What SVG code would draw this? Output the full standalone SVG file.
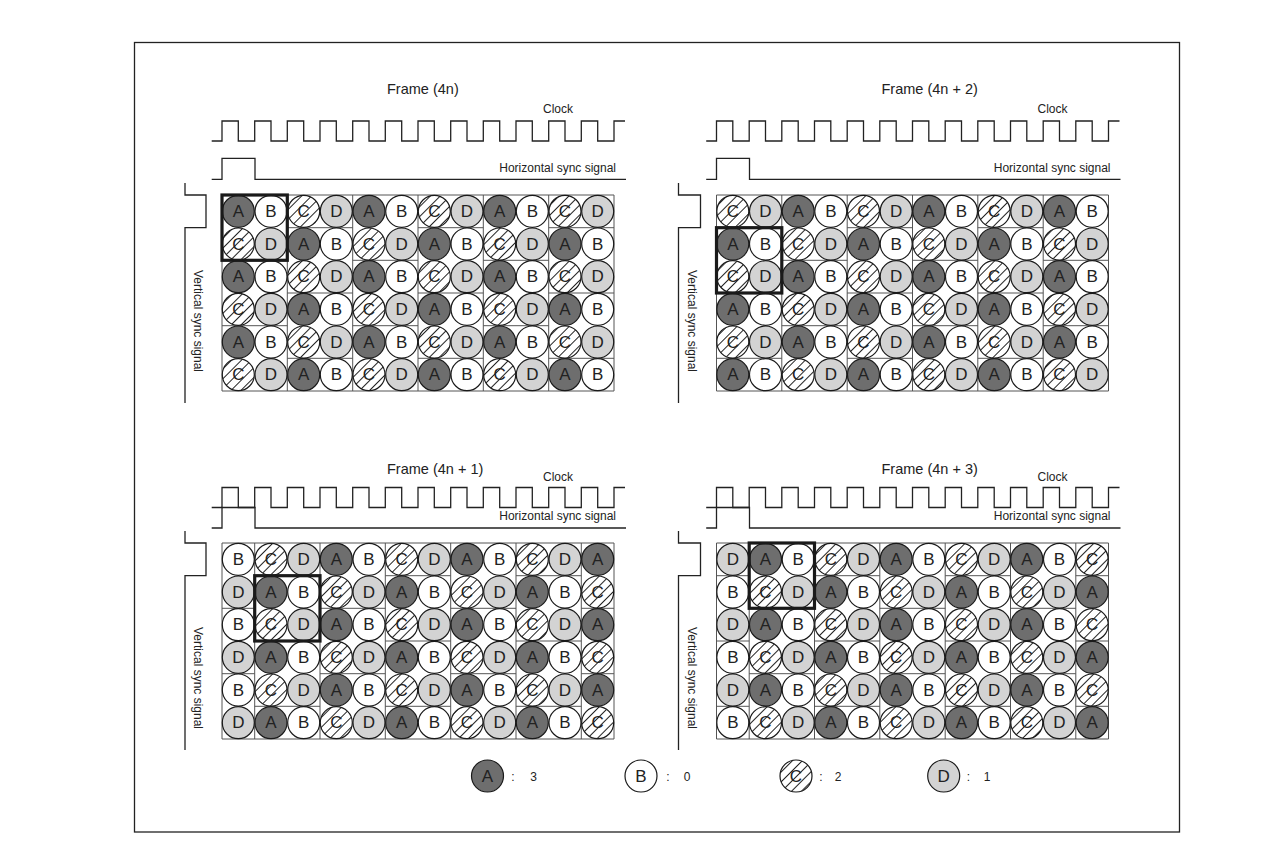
<svg xmlns="http://www.w3.org/2000/svg" width="1284" height="865" viewBox="0 0 1284 865">
<style>
.cells circle{r:16px;stroke:#1a1a1a;stroke-width:1.2}
.cells text{font-family:"Liberation Sans",Arial,sans-serif;font-size:17px;text-anchor:middle;dominant-baseline:central;fill:#222}
.a{fill:#6e6e6e}.b{fill:#fff}.c{fill:url(#hatch)}.d{fill:#d3d3d3}
.grid{fill:none;stroke:#555;stroke-width:1}
.sel{fill:none;stroke:#1a1a1a;stroke-width:3.2}
.wave{fill:none;stroke:#222;stroke-width:1.3}
.lbl{font-family:"Liberation Sans",Arial,sans-serif;fill:#222}
.title{font-size:14.5px}
.small{font-size:12px}
</style>
<defs>
<pattern id="hatch" width="7" height="7" patternUnits="userSpaceOnUse" patternTransform="rotate(45)">
<rect width="7" height="7" fill="#fff"/>
<line x1="3.5" y1="0" x2="3.5" y2="7" stroke="#222" stroke-width="1"/>
</pattern>
</defs>
<rect x="134.5" y="42.5" width="1045" height="789.5" fill="none" stroke="#222" stroke-width="1.3"/>

<!-- ============ Frame (4n) ============ -->
<g id="frame-4n" transform="translate(222,195)">
<text class="lbl title" x="165" y="-101">Frame (4n)</text>
<text class="lbl small" x="336" y="-82.5" text-anchor="middle">Clock</text>
<path class="wave" d="M-10.3,-54H0V-74H16.3V-54H32.7V-74H49V-54H65.3V-74H81.7V-54H98V-74H114.3V-54H130.7V-74H147V-54H163.3V-74H179.7V-54H196V-74H212.3V-54H228.7V-74H245V-54H261.3V-74H277.7V-54H294V-74H310.3V-54H326.7V-74H343V-54H359.3V-74H375.7V-54H392V-74H403"/>
<path class="wave" d="M-10.3,-15.7H0V-36.7H33V-15.7H404"/>
<text class="lbl small" x="394" y="-23" text-anchor="end">Horizontal sync signal</text>
<path class="wave" d="M-37,-12V0H-16V32.7H-37V208"/>
<text class="lbl small" transform="translate(-24,126) rotate(90)" y="4" text-anchor="middle">Vertical sync signal</text>
<path class="grid" d="M0,0V196M65.3,0V196M130.7,0V196M196,0V196M261.3,0V196M326.7,0V196M392,0V196M0,0H392M0,196H392M0,65.3H65.3M0,130.7H65.3M130.7,65.3H196M130.7,130.7H196M261.3,65.3H326.7M261.3,130.7H326.7M65.3,32.7H130.7M65.3,98H130.7M65.3,163.3H130.7M196,32.7H261.3M196,98H261.3M196,163.3H261.3M326.7,32.7H392M326.7,98H392M326.7,163.3H392"/>
<g class="cells">
<g transform="translate(0,16.3)"><circle class="a" cx="16.3"/><text x="16.3">A</text><circle class="b" cx="49"/><text x="49">B</text><circle class="c" cx="81.7"/><text x="81.7">C</text><circle class="d" cx="114.3"/><text x="114.3">D</text><circle class="a" cx="147"/><text x="147">A</text><circle class="b" cx="179.7"/><text x="179.7">B</text><circle class="c" cx="212.3"/><text x="212.3">C</text><circle class="d" cx="245"/><text x="245">D</text><circle class="a" cx="277.7"/><text x="277.7">A</text><circle class="b" cx="310.3"/><text x="310.3">B</text><circle class="c" cx="343"/><text x="343">C</text><circle class="d" cx="375.7"/><text x="375.7">D</text></g>
<g transform="translate(0,49)"><circle class="c" cx="16.3"/><text x="16.3">C</text><circle class="d" cx="49"/><text x="49">D</text><circle class="a" cx="81.7"/><text x="81.7">A</text><circle class="b" cx="114.3"/><text x="114.3">B</text><circle class="c" cx="147"/><text x="147">C</text><circle class="d" cx="179.7"/><text x="179.7">D</text><circle class="a" cx="212.3"/><text x="212.3">A</text><circle class="b" cx="245"/><text x="245">B</text><circle class="c" cx="277.7"/><text x="277.7">C</text><circle class="d" cx="310.3"/><text x="310.3">D</text><circle class="a" cx="343"/><text x="343">A</text><circle class="b" cx="375.7"/><text x="375.7">B</text></g>
<g transform="translate(0,81.7)"><circle class="a" cx="16.3"/><text x="16.3">A</text><circle class="b" cx="49"/><text x="49">B</text><circle class="c" cx="81.7"/><text x="81.7">C</text><circle class="d" cx="114.3"/><text x="114.3">D</text><circle class="a" cx="147"/><text x="147">A</text><circle class="b" cx="179.7"/><text x="179.7">B</text><circle class="c" cx="212.3"/><text x="212.3">C</text><circle class="d" cx="245"/><text x="245">D</text><circle class="a" cx="277.7"/><text x="277.7">A</text><circle class="b" cx="310.3"/><text x="310.3">B</text><circle class="c" cx="343"/><text x="343">C</text><circle class="d" cx="375.7"/><text x="375.7">D</text></g>
<g transform="translate(0,114.3)"><circle class="c" cx="16.3"/><text x="16.3">C</text><circle class="d" cx="49"/><text x="49">D</text><circle class="a" cx="81.7"/><text x="81.7">A</text><circle class="b" cx="114.3"/><text x="114.3">B</text><circle class="c" cx="147"/><text x="147">C</text><circle class="d" cx="179.7"/><text x="179.7">D</text><circle class="a" cx="212.3"/><text x="212.3">A</text><circle class="b" cx="245"/><text x="245">B</text><circle class="c" cx="277.7"/><text x="277.7">C</text><circle class="d" cx="310.3"/><text x="310.3">D</text><circle class="a" cx="343"/><text x="343">A</text><circle class="b" cx="375.7"/><text x="375.7">B</text></g>
<g transform="translate(0,147)"><circle class="a" cx="16.3"/><text x="16.3">A</text><circle class="b" cx="49"/><text x="49">B</text><circle class="c" cx="81.7"/><text x="81.7">C</text><circle class="d" cx="114.3"/><text x="114.3">D</text><circle class="a" cx="147"/><text x="147">A</text><circle class="b" cx="179.7"/><text x="179.7">B</text><circle class="c" cx="212.3"/><text x="212.3">C</text><circle class="d" cx="245"/><text x="245">D</text><circle class="a" cx="277.7"/><text x="277.7">A</text><circle class="b" cx="310.3"/><text x="310.3">B</text><circle class="c" cx="343"/><text x="343">C</text><circle class="d" cx="375.7"/><text x="375.7">D</text></g>
<g transform="translate(0,179.7)"><circle class="c" cx="16.3"/><text x="16.3">C</text><circle class="d" cx="49"/><text x="49">D</text><circle class="a" cx="81.7"/><text x="81.7">A</text><circle class="b" cx="114.3"/><text x="114.3">B</text><circle class="c" cx="147"/><text x="147">C</text><circle class="d" cx="179.7"/><text x="179.7">D</text><circle class="a" cx="212.3"/><text x="212.3">A</text><circle class="b" cx="245"/><text x="245">B</text><circle class="c" cx="277.7"/><text x="277.7">C</text><circle class="d" cx="310.3"/><text x="310.3">D</text><circle class="a" cx="343"/><text x="343">A</text><circle class="b" cx="375.7"/><text x="375.7">B</text></g>
</g>
<rect class="sel" x="0" y="0" width="65.3" height="65.3"/>
</g>

<!-- ============ Frame (4n + 2) ============ -->
<g id="frame-4n2" transform="translate(716.5,195)">
<text class="lbl title" x="165" y="-101">Frame (4n + 2)</text>
<text class="lbl small" x="336" y="-82.5" text-anchor="middle">Clock</text>
<path class="wave" d="M-10.3,-54H0V-74H16.3V-54H32.7V-74H49V-54H65.3V-74H81.7V-54H98V-74H114.3V-54H130.7V-74H147V-54H163.3V-74H179.7V-54H196V-74H212.3V-54H228.7V-74H245V-54H261.3V-74H277.7V-54H294V-74H310.3V-54H326.7V-74H343V-54H359.3V-74H375.7V-54H392V-74H403"/>
<path class="wave" d="M-10.3,-15.7H0V-36.7H33V-15.7H404"/>
<text class="lbl small" x="394" y="-23" text-anchor="end">Horizontal sync signal</text>
<path class="wave" d="M-38,-12V0H-16V32.7H-38V208"/>
<text class="lbl small" transform="translate(-25,126) rotate(90)" y="4" text-anchor="middle">Vertical sync signal</text>
<path class="grid" d="M0,0V196M65.3,0V196M130.7,0V196M196,0V196M261.3,0V196M326.7,0V196M392,0V196M0,0H392M0,196H392M65.3,65.3H130.7M65.3,130.7H130.7M196,65.3H261.3M196,130.7H261.3M326.7,65.3H392M326.7,130.7H392M0,32.7H65.3M0,98H65.3M0,163.3H65.3M130.7,32.7H196M130.7,98H196M130.7,163.3H196M261.3,32.7H326.7M261.3,98H326.7M261.3,163.3H326.7"/>
<g class="cells">
<g transform="translate(0,16.3)"><circle class="c" cx="16.3"/><text x="16.3">C</text><circle class="d" cx="49"/><text x="49">D</text><circle class="a" cx="81.7"/><text x="81.7">A</text><circle class="b" cx="114.3"/><text x="114.3">B</text><circle class="c" cx="147"/><text x="147">C</text><circle class="d" cx="179.7"/><text x="179.7">D</text><circle class="a" cx="212.3"/><text x="212.3">A</text><circle class="b" cx="245"/><text x="245">B</text><circle class="c" cx="277.7"/><text x="277.7">C</text><circle class="d" cx="310.3"/><text x="310.3">D</text><circle class="a" cx="343"/><text x="343">A</text><circle class="b" cx="375.7"/><text x="375.7">B</text></g>
<g transform="translate(0,49)"><circle class="a" cx="16.3"/><text x="16.3">A</text><circle class="b" cx="49"/><text x="49">B</text><circle class="c" cx="81.7"/><text x="81.7">C</text><circle class="d" cx="114.3"/><text x="114.3">D</text><circle class="a" cx="147"/><text x="147">A</text><circle class="b" cx="179.7"/><text x="179.7">B</text><circle class="c" cx="212.3"/><text x="212.3">C</text><circle class="d" cx="245"/><text x="245">D</text><circle class="a" cx="277.7"/><text x="277.7">A</text><circle class="b" cx="310.3"/><text x="310.3">B</text><circle class="c" cx="343"/><text x="343">C</text><circle class="d" cx="375.7"/><text x="375.7">D</text></g>
<g transform="translate(0,81.7)"><circle class="c" cx="16.3"/><text x="16.3">C</text><circle class="d" cx="49"/><text x="49">D</text><circle class="a" cx="81.7"/><text x="81.7">A</text><circle class="b" cx="114.3"/><text x="114.3">B</text><circle class="c" cx="147"/><text x="147">C</text><circle class="d" cx="179.7"/><text x="179.7">D</text><circle class="a" cx="212.3"/><text x="212.3">A</text><circle class="b" cx="245"/><text x="245">B</text><circle class="c" cx="277.7"/><text x="277.7">C</text><circle class="d" cx="310.3"/><text x="310.3">D</text><circle class="a" cx="343"/><text x="343">A</text><circle class="b" cx="375.7"/><text x="375.7">B</text></g>
<g transform="translate(0,114.3)"><circle class="a" cx="16.3"/><text x="16.3">A</text><circle class="b" cx="49"/><text x="49">B</text><circle class="c" cx="81.7"/><text x="81.7">C</text><circle class="d" cx="114.3"/><text x="114.3">D</text><circle class="a" cx="147"/><text x="147">A</text><circle class="b" cx="179.7"/><text x="179.7">B</text><circle class="c" cx="212.3"/><text x="212.3">C</text><circle class="d" cx="245"/><text x="245">D</text><circle class="a" cx="277.7"/><text x="277.7">A</text><circle class="b" cx="310.3"/><text x="310.3">B</text><circle class="c" cx="343"/><text x="343">C</text><circle class="d" cx="375.7"/><text x="375.7">D</text></g>
<g transform="translate(0,147)"><circle class="c" cx="16.3"/><text x="16.3">C</text><circle class="d" cx="49"/><text x="49">D</text><circle class="a" cx="81.7"/><text x="81.7">A</text><circle class="b" cx="114.3"/><text x="114.3">B</text><circle class="c" cx="147"/><text x="147">C</text><circle class="d" cx="179.7"/><text x="179.7">D</text><circle class="a" cx="212.3"/><text x="212.3">A</text><circle class="b" cx="245"/><text x="245">B</text><circle class="c" cx="277.7"/><text x="277.7">C</text><circle class="d" cx="310.3"/><text x="310.3">D</text><circle class="a" cx="343"/><text x="343">A</text><circle class="b" cx="375.7"/><text x="375.7">B</text></g>
<g transform="translate(0,179.7)"><circle class="a" cx="16.3"/><text x="16.3">A</text><circle class="b" cx="49"/><text x="49">B</text><circle class="c" cx="81.7"/><text x="81.7">C</text><circle class="d" cx="114.3"/><text x="114.3">D</text><circle class="a" cx="147"/><text x="147">A</text><circle class="b" cx="179.7"/><text x="179.7">B</text><circle class="c" cx="212.3"/><text x="212.3">C</text><circle class="d" cx="245"/><text x="245">D</text><circle class="a" cx="277.7"/><text x="277.7">A</text><circle class="b" cx="310.3"/><text x="310.3">B</text><circle class="c" cx="343"/><text x="343">C</text><circle class="d" cx="375.7"/><text x="375.7">D</text></g>
</g>
<rect class="sel" x="0" y="32.7" width="65.3" height="65.3"/>
</g>

<!-- ============ Frame (4n + 1) ============ -->
<g id="frame-4n1" transform="translate(222,543)">
<text class="lbl title" x="165" y="-69">Frame (4n + 1)</text>
<text class="lbl small" x="336" y="-62" text-anchor="middle">Clock</text>
<path class="wave" d="M-10.3,-35.5H0V-55.5H16.3V-35.5H32.7V-55.5H49V-35.5H65.3V-55.5H81.7V-35.5H98V-55.5H114.3V-35.5H130.7V-55.5H147V-35.5H163.3V-55.5H179.7V-35.5H196V-55.5H212.3V-35.5H228.7V-55.5H245V-35.5H261.3V-55.5H277.7V-35.5H294V-55.5H310.3V-35.5H326.7V-55.5H343V-35.5H359.3V-55.5H375.7V-35.5H392V-55.5H403"/>
<path class="wave" d="M-10.3,-15H0V-35.5H33V-15H404"/>
<text class="lbl small" x="394" y="-23" text-anchor="end">Horizontal sync signal</text>
<path class="wave" d="M-37,-12V0H-16V32.7H-37V207"/>
<text class="lbl small" transform="translate(-24,135) rotate(90)" y="4" text-anchor="middle">Vertical sync signal</text>
<path class="grid" d="M0,0V196M32.7,0V196M98,0V196M163.3,0V196M228.7,0V196M294,0V196M359.3,0V196M392,0V196M0,0H392M0,196H392M0,65.3H32.7M0,130.7H32.7M98,65.3H163.3M98,130.7H163.3M228.7,65.3H294M228.7,130.7H294M359.3,65.3H392M359.3,130.7H392M32.7,32.7H98M32.7,98H98M32.7,163.3H98M163.3,32.7H228.7M163.3,98H228.7M163.3,163.3H228.7M294,32.7H359.3M294,98H359.3M294,163.3H359.3"/>
<g class="cells">
<g transform="translate(0,16.3)"><circle class="b" cx="16.3"/><text x="16.3">B</text><circle class="c" cx="49"/><text x="49">C</text><circle class="d" cx="81.7"/><text x="81.7">D</text><circle class="a" cx="114.3"/><text x="114.3">A</text><circle class="b" cx="147"/><text x="147">B</text><circle class="c" cx="179.7"/><text x="179.7">C</text><circle class="d" cx="212.3"/><text x="212.3">D</text><circle class="a" cx="245"/><text x="245">A</text><circle class="b" cx="277.7"/><text x="277.7">B</text><circle class="c" cx="310.3"/><text x="310.3">C</text><circle class="d" cx="343"/><text x="343">D</text><circle class="a" cx="375.7"/><text x="375.7">A</text></g>
<g transform="translate(0,49)"><circle class="d" cx="16.3"/><text x="16.3">D</text><circle class="a" cx="49"/><text x="49">A</text><circle class="b" cx="81.7"/><text x="81.7">B</text><circle class="c" cx="114.3"/><text x="114.3">C</text><circle class="d" cx="147"/><text x="147">D</text><circle class="a" cx="179.7"/><text x="179.7">A</text><circle class="b" cx="212.3"/><text x="212.3">B</text><circle class="c" cx="245"/><text x="245">C</text><circle class="d" cx="277.7"/><text x="277.7">D</text><circle class="a" cx="310.3"/><text x="310.3">A</text><circle class="b" cx="343"/><text x="343">B</text><circle class="c" cx="375.7"/><text x="375.7">C</text></g>
<g transform="translate(0,81.7)"><circle class="b" cx="16.3"/><text x="16.3">B</text><circle class="c" cx="49"/><text x="49">C</text><circle class="d" cx="81.7"/><text x="81.7">D</text><circle class="a" cx="114.3"/><text x="114.3">A</text><circle class="b" cx="147"/><text x="147">B</text><circle class="c" cx="179.7"/><text x="179.7">C</text><circle class="d" cx="212.3"/><text x="212.3">D</text><circle class="a" cx="245"/><text x="245">A</text><circle class="b" cx="277.7"/><text x="277.7">B</text><circle class="c" cx="310.3"/><text x="310.3">C</text><circle class="d" cx="343"/><text x="343">D</text><circle class="a" cx="375.7"/><text x="375.7">A</text></g>
<g transform="translate(0,114.3)"><circle class="d" cx="16.3"/><text x="16.3">D</text><circle class="a" cx="49"/><text x="49">A</text><circle class="b" cx="81.7"/><text x="81.7">B</text><circle class="c" cx="114.3"/><text x="114.3">C</text><circle class="d" cx="147"/><text x="147">D</text><circle class="a" cx="179.7"/><text x="179.7">A</text><circle class="b" cx="212.3"/><text x="212.3">B</text><circle class="c" cx="245"/><text x="245">C</text><circle class="d" cx="277.7"/><text x="277.7">D</text><circle class="a" cx="310.3"/><text x="310.3">A</text><circle class="b" cx="343"/><text x="343">B</text><circle class="c" cx="375.7"/><text x="375.7">C</text></g>
<g transform="translate(0,147)"><circle class="b" cx="16.3"/><text x="16.3">B</text><circle class="c" cx="49"/><text x="49">C</text><circle class="d" cx="81.7"/><text x="81.7">D</text><circle class="a" cx="114.3"/><text x="114.3">A</text><circle class="b" cx="147"/><text x="147">B</text><circle class="c" cx="179.7"/><text x="179.7">C</text><circle class="d" cx="212.3"/><text x="212.3">D</text><circle class="a" cx="245"/><text x="245">A</text><circle class="b" cx="277.7"/><text x="277.7">B</text><circle class="c" cx="310.3"/><text x="310.3">C</text><circle class="d" cx="343"/><text x="343">D</text><circle class="a" cx="375.7"/><text x="375.7">A</text></g>
<g transform="translate(0,179.7)"><circle class="d" cx="16.3"/><text x="16.3">D</text><circle class="a" cx="49"/><text x="49">A</text><circle class="b" cx="81.7"/><text x="81.7">B</text><circle class="c" cx="114.3"/><text x="114.3">C</text><circle class="d" cx="147"/><text x="147">D</text><circle class="a" cx="179.7"/><text x="179.7">A</text><circle class="b" cx="212.3"/><text x="212.3">B</text><circle class="c" cx="245"/><text x="245">C</text><circle class="d" cx="277.7"/><text x="277.7">D</text><circle class="a" cx="310.3"/><text x="310.3">A</text><circle class="b" cx="343"/><text x="343">B</text><circle class="c" cx="375.7"/><text x="375.7">C</text></g>
</g>
<rect class="sel" x="32.7" y="32.7" width="65.3" height="65.3"/>
</g>

<!-- ============ Frame (4n + 3) ============ -->
<g id="frame-4n3" transform="translate(716.5,543)">
<text class="lbl title" x="165" y="-69">Frame (4n + 3)</text>
<text class="lbl small" x="336" y="-62" text-anchor="middle">Clock</text>
<path class="wave" d="M-10.3,-35.5H0V-55.5H16.3V-35.5H32.7V-55.5H49V-35.5H65.3V-55.5H81.7V-35.5H98V-55.5H114.3V-35.5H130.7V-55.5H147V-35.5H163.3V-55.5H179.7V-35.5H196V-55.5H212.3V-35.5H228.7V-55.5H245V-35.5H261.3V-55.5H277.7V-35.5H294V-55.5H310.3V-35.5H326.7V-55.5H343V-35.5H359.3V-55.5H375.7V-35.5H392V-55.5H403"/>
<path class="wave" d="M-10.3,-15H0V-35.5H33V-15H404"/>
<text class="lbl small" x="394" y="-23" text-anchor="end">Horizontal sync signal</text>
<path class="wave" d="M-38,-12V0H-16V32.7H-38V207"/>
<text class="lbl small" transform="translate(-25,135) rotate(90)" y="4" text-anchor="middle">Vertical sync signal</text>
<path class="grid" d="M0,0V196M32.7,0V196M98,0V196M163.3,0V196M228.7,0V196M294,0V196M359.3,0V196M392,0V196M0,0H392M0,196H392M32.7,65.3H98M32.7,130.7H98M163.3,65.3H228.7M163.3,130.7H228.7M294,65.3H359.3M294,130.7H359.3M0,32.7H32.7M0,98H32.7M0,163.3H32.7M98,32.7H163.3M98,98H163.3M98,163.3H163.3M228.7,32.7H294M228.7,98H294M228.7,163.3H294M359.3,32.7H392M359.3,98H392M359.3,163.3H392"/>
<g class="cells">
<g transform="translate(0,16.3)"><circle class="d" cx="16.3"/><text x="16.3">D</text><circle class="a" cx="49"/><text x="49">A</text><circle class="b" cx="81.7"/><text x="81.7">B</text><circle class="c" cx="114.3"/><text x="114.3">C</text><circle class="d" cx="147"/><text x="147">D</text><circle class="a" cx="179.7"/><text x="179.7">A</text><circle class="b" cx="212.3"/><text x="212.3">B</text><circle class="c" cx="245"/><text x="245">C</text><circle class="d" cx="277.7"/><text x="277.7">D</text><circle class="a" cx="310.3"/><text x="310.3">A</text><circle class="b" cx="343"/><text x="343">B</text><circle class="c" cx="375.7"/><text x="375.7">C</text></g>
<g transform="translate(0,49)"><circle class="b" cx="16.3"/><text x="16.3">B</text><circle class="c" cx="49"/><text x="49">C</text><circle class="d" cx="81.7"/><text x="81.7">D</text><circle class="a" cx="114.3"/><text x="114.3">A</text><circle class="b" cx="147"/><text x="147">B</text><circle class="c" cx="179.7"/><text x="179.7">C</text><circle class="d" cx="212.3"/><text x="212.3">D</text><circle class="a" cx="245"/><text x="245">A</text><circle class="b" cx="277.7"/><text x="277.7">B</text><circle class="c" cx="310.3"/><text x="310.3">C</text><circle class="d" cx="343"/><text x="343">D</text><circle class="a" cx="375.7"/><text x="375.7">A</text></g>
<g transform="translate(0,81.7)"><circle class="d" cx="16.3"/><text x="16.3">D</text><circle class="a" cx="49"/><text x="49">A</text><circle class="b" cx="81.7"/><text x="81.7">B</text><circle class="c" cx="114.3"/><text x="114.3">C</text><circle class="d" cx="147"/><text x="147">D</text><circle class="a" cx="179.7"/><text x="179.7">A</text><circle class="b" cx="212.3"/><text x="212.3">B</text><circle class="c" cx="245"/><text x="245">C</text><circle class="d" cx="277.7"/><text x="277.7">D</text><circle class="a" cx="310.3"/><text x="310.3">A</text><circle class="b" cx="343"/><text x="343">B</text><circle class="c" cx="375.7"/><text x="375.7">C</text></g>
<g transform="translate(0,114.3)"><circle class="b" cx="16.3"/><text x="16.3">B</text><circle class="c" cx="49"/><text x="49">C</text><circle class="d" cx="81.7"/><text x="81.7">D</text><circle class="a" cx="114.3"/><text x="114.3">A</text><circle class="b" cx="147"/><text x="147">B</text><circle class="c" cx="179.7"/><text x="179.7">C</text><circle class="d" cx="212.3"/><text x="212.3">D</text><circle class="a" cx="245"/><text x="245">A</text><circle class="b" cx="277.7"/><text x="277.7">B</text><circle class="c" cx="310.3"/><text x="310.3">C</text><circle class="d" cx="343"/><text x="343">D</text><circle class="a" cx="375.7"/><text x="375.7">A</text></g>
<g transform="translate(0,147)"><circle class="d" cx="16.3"/><text x="16.3">D</text><circle class="a" cx="49"/><text x="49">A</text><circle class="b" cx="81.7"/><text x="81.7">B</text><circle class="c" cx="114.3"/><text x="114.3">C</text><circle class="d" cx="147"/><text x="147">D</text><circle class="a" cx="179.7"/><text x="179.7">A</text><circle class="b" cx="212.3"/><text x="212.3">B</text><circle class="c" cx="245"/><text x="245">C</text><circle class="d" cx="277.7"/><text x="277.7">D</text><circle class="a" cx="310.3"/><text x="310.3">A</text><circle class="b" cx="343"/><text x="343">B</text><circle class="c" cx="375.7"/><text x="375.7">C</text></g>
<g transform="translate(0,179.7)"><circle class="b" cx="16.3"/><text x="16.3">B</text><circle class="c" cx="49"/><text x="49">C</text><circle class="d" cx="81.7"/><text x="81.7">D</text><circle class="a" cx="114.3"/><text x="114.3">A</text><circle class="b" cx="147"/><text x="147">B</text><circle class="c" cx="179.7"/><text x="179.7">C</text><circle class="d" cx="212.3"/><text x="212.3">D</text><circle class="a" cx="245"/><text x="245">A</text><circle class="b" cx="277.7"/><text x="277.7">B</text><circle class="c" cx="310.3"/><text x="310.3">C</text><circle class="d" cx="343"/><text x="343">D</text><circle class="a" cx="375.7"/><text x="375.7">A</text></g>
</g>
<rect class="sel" x="32.7" y="0" width="65.3" height="65.3"/>
</g>

<!-- ============ Legend ============ -->
<g id="legend" transform="translate(0,776)">
<g class="cells">
<circle class="a" cx="487.5"/><text x="487.5">A</text>
<circle class="b" cx="641"/><text x="641">B</text>
<circle class="c" cx="796"/><text x="796">C</text>
<circle class="d" cx="943.7"/><text x="943.7">D</text>
</g>
<g class="lbl small" text-anchor="middle">
<text x="513" y="4.5">:</text><text x="533.5" y="4.5">3</text>
<text x="668" y="4.5">:</text><text x="687" y="4.5">0</text>
<text x="821" y="4.5">:</text><text x="838" y="4.5">2</text>
<text x="968.5" y="4.5">:</text><text x="987" y="4.5">1</text>
</g>
</g>
</svg>
